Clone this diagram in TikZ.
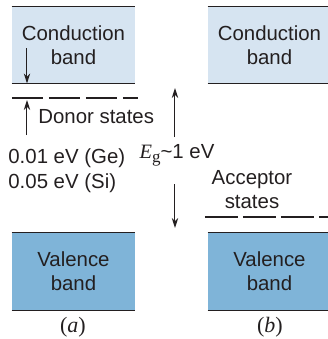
\documentclass[tikz,border=0pt]{standalone}
\usepackage{fontspec}
\setmainfont{Liberation Sans}
\newfontfamily\capfont{Liberation Serif}
\usetikzlibrary{positioning, arrows.meta}
\definecolor{cbfill}{HTML}{D6E4F1}
\definecolor{vbfill}{HTML}{7FB4D8}
\definecolor{ink}{HTML}{231F20}
\tikzset{
  >={Stealth[length=5pt, width=3.2pt]},
  bd band/.style={fill=#1, draw=none, minimum width=61.5pt, inner sep=0pt,
    align=center, font=\fontsize{10.2}{12}\selectfont, text=ink},
  bd edge/.style={draw=ink, line width=0.7pt},
  bd arrow/.style={draw=ink, ->, line width=0.5pt},
  bd level/.style={draw=ink, line width=0.6pt},
  bd label/.style={font=\fontsize{10.2}{12}\selectfont, text=ink, inner sep=0pt},
  bd cap/.style={font=\capfont\fontsize{11}{12}\selectfont, text=ink, inner sep=0pt},
}
\begin{document}
\begin{tikzpicture}[x=0.5pt, y=-0.5pt]
 \clip (0,0) rectangle (328,339);
 % bands
 \node[bd band=cbfill, minimum height=38pt] (cba) at (73.5,45) {Conduction\\band};
 \node[bd band=cbfill, minimum height=38pt] (cbb) at (269.5,45) {Conduction\\band};
 \node[bd band=vbfill, minimum height=38.5pt] (vba) at (73.5,271.5) {Valence\\band};
 \node[bd band=vbfill, minimum height=38.5pt] (vbb) at (269.5,271.5) {Valence\\band};
 \foreach \b in {cba,cbb,vba,vbb}{
   \draw[bd edge] (\b.north west) -- (\b.north east);
   \draw[bd edge] (\b.south west) -- (\b.south east);
 }
 % impurity levels
 \coordinate (dl) at (12,98);
 \coordinate (dr) at (138,98);
 \draw[bd level, dash pattern=on 15.5pt off 3pt] (dl) -- (dr);
 \coordinate (al) at (205,217);
 \coordinate (ar) at (331,217);
 \draw[bd level, dash pattern=on 16.5pt off 2.5pt] (al) -- (ar);
 % donor arrows
 \coordinate (ct) at (27,48);
 \coordinate (cb) at (cba.south -| ct);
 \draw[bd arrow] (ct) -- (cb);
 \coordinate (dt) at (27,135);
 \coordinate (dd) at (27,100);
 \draw[bd arrow] (dt) -- (dd);
 \node[bd label, anchor=west] (donor) at (38,117) {Donor states};
 \node[bd label, anchor=west] (ge) at (8,158) {0.01 eV (Ge)};
 \node[bd label, anchor=west] (si) at (8,183) {0.05 eV (Si)};
 % band gap
 \node[bd label] (gap) at (177,155)
   {{\capfont\itshape E}\raisebox{-0.35ex}{\capfont\fontsize{8.5}{9}\selectfont g}\textasciitilde 1 eV};
 \coordinate (gu) at (175,137);
 \coordinate (gt) at (175,88);
 \coordinate (gd) at (175,184);
 \coordinate (gb) at (175,228);
 \draw[bd arrow] (gu) -- (gt);
 \draw[bd arrow] (gd) -- (gb);
 \node[bd label, align=center] (acc) at (252,190) {Acceptor\\states};
 % captions
 \node[bd cap] (capa) at (73,327) {(\textit{a})};
 \node[bd cap] (capb) at (270,327) {(\textit{b})};
\end{tikzpicture}
\end{document}
